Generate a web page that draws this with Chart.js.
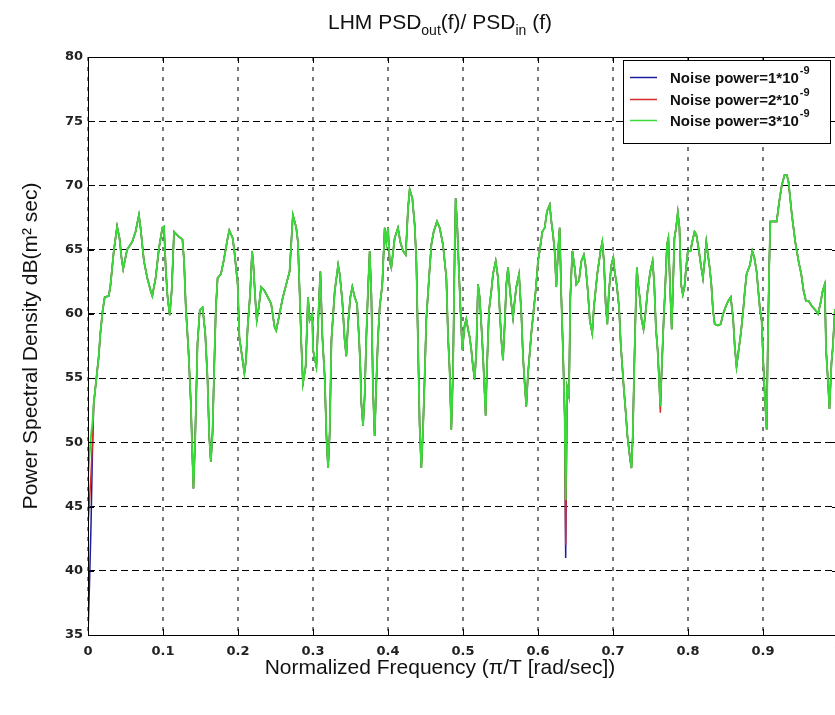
<!DOCTYPE html>
<html lang="en">
  <head>
    <meta charset="UTF-8" />
    <title>LHM PSD</title>
    <script src="https://cdn.jsdelivr.net/npm/chart.js"></script>
    <style>
      * {
        margin: 0;
        padding: 0;
        box-sizing: border-box;
      }

      body {
        background-color: #ffffff;
        width: 835px;
        height: 715px;
        overflow: hidden;
      }

      canvas {
        display: block;
      }
    </style>
  </head>
  <body>
    <canvas id="psdChart" width="845" height="715"></canvas>

    <script>
      // Normalized frequency (x)
      var freq = [
        0, 0.002, 0.004, 0.006, 0.0076, 0.0143, 0.0165, 0.0196, 0.0223, 0.0277,
        0.0299, 0.0344, 0.0388, 0.042, 0.0446, 0.0469, 0.05, 0.0522, 0.0589, 0.0634,
        0.0679, 0.0701, 0.0746, 0.079, 0.0835, 0.0857, 0.0902, 0.0946, 0.0991, 0.1013,
        0.1036, 0.1058, 0.1089, 0.1116, 0.1147, 0.1214, 0.1259, 0.1281, 0.1304, 0.1339,
        0.1371, 0.1393, 0.1406, 0.1429, 0.146, 0.1491, 0.1527, 0.1563, 0.1594, 0.1616,
        0.1638, 0.1661, 0.1683, 0.1705, 0.1728, 0.1772, 0.1808, 0.1862, 0.1884, 0.1929,
        0.1951, 0.1996, 0.2018, 0.2054, 0.2085, 0.2107, 0.2129, 0.2161, 0.2188, 0.2205,
        0.2232, 0.225, 0.2277, 0.2308, 0.2353, 0.2397, 0.2442, 0.2487, 0.2509, 0.2554,
        0.2598, 0.2643, 0.2688, 0.2732, 0.2777, 0.2799, 0.2821, 0.2844, 0.2866, 0.2902,
        0.2933, 0.2955, 0.2991, 0.3, 0.3045, 0.308, 0.3098, 0.3125, 0.3156, 0.3179,
        0.3201, 0.3223, 0.3246, 0.329, 0.3335, 0.3356, 0.3391, 0.3422, 0.3444, 0.3467,
        0.3498, 0.3524, 0.3556, 0.3587, 0.3613, 0.3631, 0.3644, 0.3667, 0.3689, 0.3711,
        0.3733, 0.3756, 0.3778, 0.38, 0.3822, 0.3844, 0.3867, 0.3889, 0.3924, 0.3956,
        0.3978, 0.4, 0.4022, 0.4044, 0.4089, 0.4133, 0.4164, 0.42, 0.4236, 0.4267,
        0.4289, 0.4324, 0.4356, 0.4378, 0.44, 0.4422, 0.4444, 0.4467, 0.4489, 0.4511,
        0.4547, 0.4578, 0.4609, 0.4653, 0.4689, 0.4733, 0.4778, 0.48, 0.4822, 0.4844,
        0.4867, 0.4889, 0.4902, 0.4924, 0.4947, 0.4969, 0.4991, 0.5022, 0.5044, 0.5067,
        0.5089, 0.5111, 0.5133, 0.5156, 0.5178, 0.52, 0.5222, 0.5244, 0.5267, 0.5289,
        0.5302, 0.532, 0.5347, 0.5378, 0.54, 0.5436, 0.5467, 0.5489, 0.5511, 0.5533,
        0.5556, 0.5578, 0.56, 0.5622, 0.5644, 0.5667, 0.5689, 0.5711, 0.5747, 0.5778,
        0.58, 0.5822, 0.5844, 0.5867, 0.5889, 0.5911, 0.5942, 0.5969, 0.6, 0.6022,
        0.6058, 0.6089, 0.612, 0.6156, 0.6178, 0.62, 0.6222, 0.6244, 0.6267, 0.6289,
        0.6311, 0.6333, 0.6356, 0.6369, 0.6387, 0.6413, 0.6431, 0.6458, 0.6489, 0.6511,
        0.6547, 0.6578, 0.6611, 0.6633, 0.6664, 0.6691, 0.6723, 0.6745, 0.679, 0.6834,
        0.6857, 0.6879, 0.6902, 0.6924, 0.6946, 0.6978, 0.7004, 0.7022, 0.7049, 0.7081,
        0.7103, 0.7139, 0.717, 0.7192, 0.7228, 0.7246, 0.7264, 0.7282, 0.7304, 0.7318,
        0.7336, 0.7362, 0.738, 0.7407, 0.7438, 0.7461, 0.7497, 0.7528, 0.755, 0.7573,
        0.7595, 0.7617, 0.7631, 0.7649, 0.7676, 0.7694, 0.772, 0.7738, 0.7765, 0.7783,
        0.7801, 0.7819, 0.7841, 0.7864, 0.7886, 0.7908, 0.7931, 0.7953, 0.7975, 0.7998,
        0.8034, 0.8056, 0.8087, 0.811, 0.8141, 0.8177, 0.8199, 0.8221, 0.8244, 0.8266,
        0.8289, 0.8311, 0.8333, 0.8356, 0.84, 0.8436, 0.8468, 0.8499, 0.8535, 0.857,
        0.8602, 0.8624, 0.8647, 0.8669, 0.8705, 0.8736, 0.8758, 0.8781, 0.8826, 0.8857,
        0.8884, 0.8915, 0.8937, 0.896, 0.8982, 0.9004, 0.9027, 0.9049, 0.9063, 0.9081,
        0.9098, 0.9139, 0.9183, 0.9215, 0.925, 0.9286, 0.9318, 0.934, 0.9385, 0.943,
        0.9474, 0.951, 0.9541, 0.9573, 0.9609, 0.9653, 0.9698, 0.9734, 0.9765, 0.9796,
        0.9823, 0.9841, 0.9868, 0.9886, 0.9913, 0.9931, 0.9958, 0.9989, 1
      ];

      // PSD in dB for noise power 3*10^-9 (green, drawn on top)
      var psd3 = [
        47.5, 49, 50.5, 51.5, 53, 56.7, 58.5, 60.3, 61.3, 61.4,
        62.2, 64.9, 66.8, 65.9, 64.4, 63.5, 64.4, 65, 65.6, 66.4,
        67.7, 66.7, 64.1, 62.8, 61.8, 61.4, 62.8, 65.1, 66.7, 66.8,
        63.6, 61.5, 59.9, 61.8, 66.4, 66, 65.8, 64.1, 60.5, 57.2,
        53.1, 48.7, 46.4, 50.3, 57.7, 60.3, 60.5, 58.5, 54.9, 50.5,
        48.5, 50.8, 55.9, 60.5, 62.8, 63.1, 64.1, 65.9, 66.5, 65.9,
        64.9, 62.3, 58.2, 56.7, 55.4, 56.4, 59, 61.5, 64.9, 63.8,
        61, 59.5, 60.5, 62.1, 61.8, 61.3, 60.8, 59, 58.7, 60,
        61.3, 62.3, 63.3, 67.7, 66.7, 65.6, 61.8, 57.7, 54.6, 55.9,
        61.3, 59.5, 60, 57.2, 55.9, 61, 63.3, 58.2, 55.1, 50.5,
        48, 50.8, 58, 61.8, 63.8, 63.1, 61, 58, 56.7, 59.2,
        61.3, 62.1, 61.3, 60.8, 58.2, 55.9, 53.1, 51.3, 53.6, 58.2,
        61.8, 64.9, 61.5, 54.1, 50.5, 54.6, 58.2, 60.5, 62.3, 66.7,
        65.6, 66.7, 64.1, 63.6, 65.9, 66.7, 65.6, 64.9, 64.6, 68.2,
        69.7, 69, 66.9, 64.1, 57.7, 51.3, 48, 51, 55.1, 59.6,
        62.8, 65.4, 66.4, 67.2, 66.7, 65.4, 62.8, 58.3, 55.6, 51,
        55.6, 64.9, 69, 66.7, 63.1, 60, 57.2, 59.1, 59.6, 58.8,
        58.2, 57.2, 55.9, 54.9, 57.2, 62.3, 61.3, 59.2, 56.7, 53.8,
        52.1, 55.9, 60.3, 61.8, 63.1, 64.1, 62.8, 60.3, 58, 56.4,
        59.2, 62.3, 63.6, 62.1, 60.8, 59.7, 61, 62.1, 63.1, 60,
        56.7, 54.6, 52.8, 55.4, 56.9, 58.5, 60.3, 61.8, 64.1, 64.9,
        66.4, 66.7, 68, 68.5, 67.2, 66.2, 64.9, 62.1, 64.9, 66.7,
        61.3, 57.2, 52.1, 45.5, 54.3, 53.6, 61.3, 64.9, 63.6, 62.3,
        62.6, 64.1, 64.6, 63.8, 61.8, 59.5, 58.5, 60.5, 63.1, 64.9,
        65.6, 64.1, 60.8, 59.2, 61.8, 63.8, 64.4, 63.3, 62.3, 60.5,
        57.7, 54.6, 52.3, 50.5, 48.7, 48, 50.5, 55.6, 60.8, 63.6,
        62.3, 61, 59.6, 58.8, 60.3, 61.8, 63.3, 64.1, 62.3, 58.8,
        57.2, 54.6, 52.8, 55.6, 59.6, 61.8, 65.4, 65.9, 61.5, 58.8,
        62.3, 65.9, 66.7, 67.9, 66.7, 62.3, 61.5, 62.1, 63.6, 64.9,
        64.9, 65.6, 66.4, 66.2, 65.1, 63.6, 62.8, 64.1, 65.6, 64.6,
        63.6, 62.3, 60.3, 59.2, 59.1, 59.2, 60, 60.5, 61, 61.3,
        59.6, 57.4, 55.9, 56.9, 58.5, 60.3, 61.8, 63.1, 63.8, 64.9,
        64.4, 63.3, 61.8, 60.3, 59.5, 56.2, 53.3, 51, 57.2, 63.3,
        67.2, 67.2, 67.2, 68.7, 70, 70.8, 70.8, 70.3, 67.7, 65.6,
        64.1, 63.1, 61.8, 61, 61, 60.6, 60.3, 60, 60.8, 61.8,
        62.3, 57.2, 54.6, 52.6, 56.2, 57.4, 60.3, 60.3, 61.5
      ];

      // the 1*10^-9 and 2*10^-9 curves lie under the green one except at these points [freq, dB]
      var psd1Tips = [[0, 35], [0.002, 39], [0.004, 43.5], [0.006, 49.5], [0.6369, 41]];
      var psd2Tips = [[0, 43.5], [0.002, 45.5], [0.004, 47.5], [0.006, 50], [0.6369, 42], [0.7631, 52.3]];

      var seriesNames = ["Noise power=1*10", "Noise power=2*10", "Noise power=3*10"];
      var seriesExp = ["-9", "-9", "-9"];
      var seriesColors = ["#1c1c9e", "#d82a2a", "#3bd93b"];

      var xTickValues = [0, 0.1, 0.2, 0.3, 0.4, 0.5, 0.6, 0.7, 0.8, 0.9, 1];
      var yTickValues = [35, 40, 45, 50, 55, 60, 65, 70, 75, 80];

      function withTips(base, tips) {
        var out = base.slice();
        tips.forEach(function (t) {
          var i = freq.indexOf(t[0]);
          if (i >= 0) out[i] = t[1];
        });
        return out;
      }

      function toPoints(vals) {
        return freq.map(function (f, i) {
          return { x: f, y: vals[i] };
        });
      }

      var seriesValues = [withTips(psd3, psd1Tips), withTips(psd3, psd2Tips), psd3];

      var sansFont = "'Liberation Sans', Arial, sans-serif";
      var tickFont = { family: "'DejaVu Sans', sans-serif", size: 13, weight: "bold" };

      // draws text pieces with sub/superscripts, centered on cx
      function drawRich(ctx, parts, cx, baseline, size) {
        var small = Math.round(size * 0.68);
        var total = 0;
        parts.forEach(function (p) {
          ctx.font = (p.sub || p.sup ? small : size) + "px " + sansFont;
          p.w = ctx.measureText(p.t).width;
          total += p.w;
        });
        var x = cx - total / 2;
        ctx.textAlign = "left";
        ctx.textBaseline = "alphabetic";
        parts.forEach(function (p) {
          ctx.font = (p.sub || p.sup ? small : size) + "px " + sansFont;
          var dy = p.sub ? size * 0.3 : p.sup ? -size * 0.45 : 0;
          ctx.fillText(p.t, x, baseline + dy);
          x += p.w;
        });
      }

      var decorPlugin = {
        id: "decor",
        afterDatasetsDraw: function (chart) {
          var ctx = chart.ctx;
          var a = chart.chartArea;
          var xs = chart.scales.x;
          var ys = chart.scales.y;
          ctx.save();
          ctx.strokeStyle = "#000";
          ctx.lineWidth = 1;
          ctx.beginPath();
          xTickValues.forEach(function (v) {
            var px = Math.round(xs.getPixelForValue(v)) + 0.5;
            ctx.moveTo(px, a.bottom);
            ctx.lineTo(px, a.bottom - 6);
            ctx.moveTo(px, a.top);
            ctx.lineTo(px, a.top + 6);
          });
          yTickValues.forEach(function (v) {
            var py = Math.round(ys.getPixelForValue(v)) + 0.5;
            ctx.moveTo(a.left, py);
            ctx.lineTo(a.left + 6, py);
            ctx.moveTo(a.right, py);
            ctx.lineTo(a.right - 6, py);
          });
          ctx.stroke();
          ctx.strokeRect(Math.round(a.left) + 0.5, Math.round(a.top) + 0.5, Math.round(a.right - a.left), Math.round(a.bottom - a.top));
          ctx.restore();
        },
        afterDraw: function (chart) {
          var ctx = chart.ctx;
          var a = chart.chartArea;
          ctx.save();
          ctx.fillStyle = "#111";

          // title
          drawRich(ctx, [
            { t: "LHM PSD" },
            { t: "out", sub: true },
            { t: "(f)/ PSD" },
            { t: "in", sub: true },
            { t: " (f)" }
          ], 440, 29, 21);

          // x axis label
          drawRich(ctx, [{ t: "Normalized Frequency (\u03c0/T [rad/sec])" }], 440, 674, 21);

          // legend box
          var lx = a.right - 215, ly = a.top + 3, lw = 207, lh = 83;
          ctx.fillStyle = "#fff";
          ctx.fillRect(lx, ly, lw, lh);
          ctx.strokeStyle = "#000";
          ctx.lineWidth = 1;
          ctx.strokeRect(Math.round(lx) + 0.5, Math.round(ly) + 0.5, lw, lh);
          seriesNames.forEach(function (name, i) {
            var ry = Math.round(ly + 17 + i * 21.5) + 0.5;
            ctx.strokeStyle = seriesColors[i];
            ctx.lineWidth = 1.5;
            ctx.beginPath();
            ctx.moveTo(lx + 7, ry);
            ctx.lineTo(lx + 34, ry);
            ctx.stroke();
            ctx.fillStyle = "#111";
            ctx.textAlign = "left";
            ctx.textBaseline = "middle";
            ctx.font = "bold 15px " + sansFont;
            ctx.fillText(name, lx + 47, ry + 1);
            var w = ctx.measureText(name).width;
            ctx.font = "bold 11px " + sansFont;
            ctx.fillText(seriesExp[i], lx + 48 + w, ry - 7);
          });
          ctx.restore();
        }
      };

      var ctx = document.getElementById("psdChart").getContext("2d");
      new Chart(ctx, {
        type: "line",
        data: {
          datasets: seriesNames.map(function (name, i) {
            return {
              label: name + seriesExp[i],
              data: toPoints(seriesValues[i]),
              borderColor: seriesColors[i],
              borderWidth: i === 2 ? 1.9 : 1.5,
              pointRadius: 0,
              tension: 0,
              fill: false,
              order: 3 - i
            };
          })
        },
        options: {
          responsive: false,
          animation: false,
          layout: { padding: { top: 57, right: 7, left: 0, bottom: 0 } },
          plugins: {
            legend: { display: false },
            tooltip: { enabled: false }
          },
          scales: {
            x: {
              type: "linear",
              min: 0,
              max: 1,
              afterBuildTicks: function (s) {
                s.ticks = xTickValues.map(function (v) { return { value: v }; });
              },
              afterFit: function (s) {
                s.height = 80;
                s.paddingLeft = 0;
                s.paddingRight = 0;
              },
              ticks: {
                autoSkip: false,
                maxRotation: 0,
                padding: 9,
                color: "#222",
                font: tickFont,
                callback: function (v) { return String(Math.round(v * 10) / 10); }
              },
              grid: { color: "#7a7a7a", lineWidth: 2, drawTicks: false },
              border: { display: false, dash: [4, 6] }
            },
            y: {
              min: 35,
              max: 80,
              afterBuildTicks: function (s) {
                s.ticks = yTickValues.map(function (v) { return { value: v }; });
              },
              afterFit: function (s) {
                s.width = 88;
              },
              ticks: {
                padding: 5,
                color: "#222",
                font: tickFont
              },
              grid: { color: "#000", lineWidth: 1, drawTicks: false },
              border: { display: false, dash: [7, 4] },
              title: {
                display: true,
                text: "Power Spectral Density dB(m\u00b2 sec)",
                color: "#111",
                font: { family: sansFont, size: 21 },
                padding: { top: 19, bottom: 0 }
              }
            }
          }
        },
        plugins: [decorPlugin]
      });
    </script>
  </body>
</html>
